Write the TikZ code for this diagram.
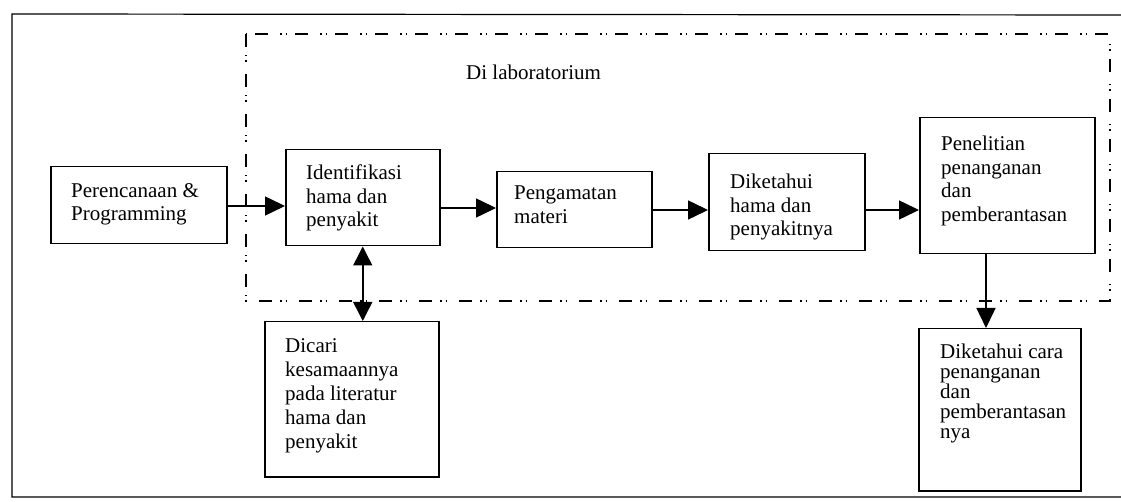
\documentclass[tikz,border=0pt]{standalone}
\usepackage{fontspec}
\setmainfont{Liberation Serif}
\usetikzlibrary{arrows.meta}

\begin{document}
\begin{tikzpicture}[x=1pt,y=-1pt,
  box/.style={draw, line width=1.5pt, inner sep=0pt, anchor=north west},
  lbl/.style={inner sep=0pt, anchor=north west, align=left,
    font=\fontsize{21}{23.5}\selectfont},
  flow/.style={line width=1.5pt, -{Triangle[length=20pt,width=19pt]}},
  both/.style={line width=1.5pt, {Triangle[length=19pt,width=19pt]}-{Triangle[length=19pt,width=19pt]}},
  zone/.style={line width=1.5pt,
    dash pattern=on 13pt off 8pt on 1.5pt off 4pt on 1.5pt off 12pt},
]
\useasboundingbox (0,0) rectangle (1121,502);

% outer frame
\draw[line width=1.2pt] (1121,15) -- (12,14) -- (12,497) -- (1121,497);

% laboratory zone
\draw[zone] (246,34) rectangle (1110,301);
\node[inner sep=0pt, anchor=base west, font=\fontsize{21}{23}\selectfont]
  (lab) at (466,80) {Di laboratorium};

% process boxes
\node[box, minimum width=176pt, minimum height=77pt]  (plan)   at (50,166)  {};
\node[box, minimum width=154pt, minimum height=96pt]  (ident)  at (285,149) {};
\node[box, minimum width=155pt, minimum height=76pt]  (peng)   at (496,171) {};
\node[box, minimum width=156pt, minimum height=97pt]  (dik)    at (708,153) {};
\node[box, minimum width=175pt, minimum height=136pt] (pen)    at (919,117) {};
\node[box, minimum width=174pt, minimum height=155pt] (dicari) at (264,321) {};
\node[box, minimum width=162pt, minimum height=162pt] (cara)   at (918,328) {};

% box texts
\node[lbl] (planT)   at (71,183)  {Perencanaan \&\\Programming};
\node[lbl] (identT)  at (306,165) {Identifikasi\\hama dan\\penyakit};
\node[lbl] (pengT)   at (514,186) {Pengamatan\\materi};
\node[lbl] (dikT)    at (730,174) {Diketahui\\hama dan\\penyakitnya};
\node[lbl] (penT)    at (941,136) {Penelitian\\penanganan\\dan\\pemberantasan};
\node[lbl, font=\fontsize{21}{24}\selectfont] (dicariT) at (285,338)
  {Dicari\\kesamaannya\\pada literatur\\hama dan\\penyakit};
\node[lbl, font=\fontsize{21}{20}\selectfont] (caraT) at (940,344)
  {Diketahui cara\\penanganan\\dan\\pemberantasan\\nya};

% connectors
\draw[flow] (plan.east |- 0,206)  -- (ident.west |- 0,206);
\draw[flow] (ident.east |- 0,208) -- (peng.west |- 0,208);
\draw[flow] (peng.east |- 0,210)  -- (dik.west |- 0,210);
\draw[flow] (dik.east |- 0,210)   -- (pen.west |- 0,210);
\draw[both] (ident.south) -- (ident.south |- dicari.north);
\draw[flow] (pen.south -| 986,0)  -- (cara.north -| 986,0);
\end{tikzpicture}
\end{document}
